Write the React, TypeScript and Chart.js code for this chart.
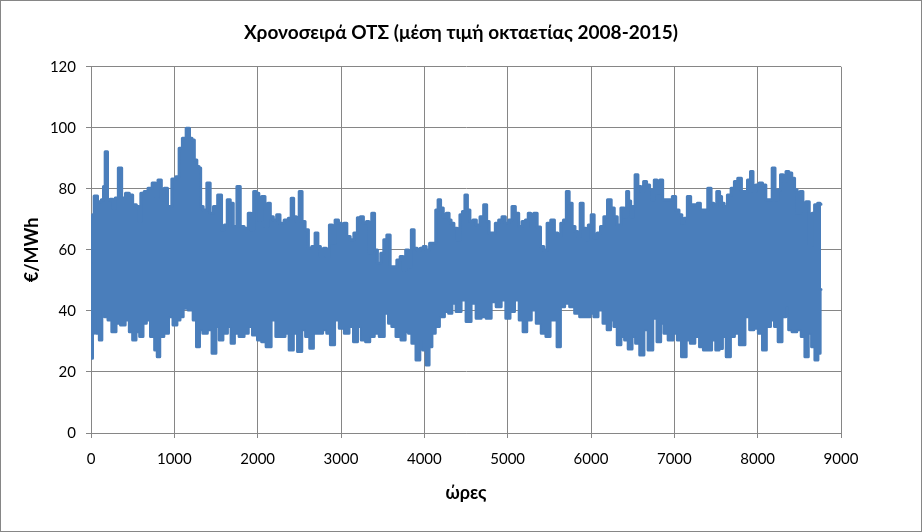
import React, { useEffect, useRef } from 'react';
import { Chart, registerables } from 'chart.js';

Chart.register(...registerables);

// Upper envelope of the hourly series (daily peaks)
const upperHours = [
  0, 12, 24, 52, 104, 144, 156, 184, 212, 244, 276, 304, 352, 384, 444, 476, 524, 564, 584, 612,
  664, 704, 764, 784, 824, 864, 892, 944, 996, 1040, 1075, 1118, 1166, 1198, 1226, 1254, 1286, 1306, 1326, 1366,
  1414, 1446, 1494, 1546, 1587, 1615, 1655, 1687, 1727, 1775, 1807, 1867, 1907, 1936, 1968, 2000, 2028, 2068, 2108, 2136,
  2168, 2208, 2248, 2288, 2348, 2388, 2416, 2448, 2480, 2517, 2549, 2589, 2629, 2669, 2709, 2737, 2769, 2809, 2841, 2881,
  2909, 2949, 2990, 3018, 3050, 3090, 3130, 3178, 3215, 3249, 3289, 3321, 3349, 3389, 3417, 3457, 3497, 3530, 3570, 3610,
  3650, 3690, 3730, 3762, 3790, 3830, 3858, 3898, 3930, 3970, 4002, 4043, 4083, 4123, 4151, 4179, 4211, 4243, 4283, 4311,
  4331, 4379, 4411, 4443, 4471, 4503, 4531, 4563, 4604, 4644, 4692, 4732, 4764, 4792, 4832, 4872, 4912, 4952, 4992, 5032,
  5072, 5112, 5153, 5193, 5233, 5261, 5293, 5333, 5375, 5413, 5453, 5493, 5541, 5581, 5621, 5653, 5686, 5722, 5754, 5794,
  5822, 5854, 5886, 5926, 5954, 5982, 6022, 6054, 6094, 6134, 6174, 6222, 6263, 6295, 6335, 6383, 6415, 6439, 6465, 6487,
  6515, 6543, 6583, 6615, 6647, 6687, 6719, 6743, 6776, 6808, 6844, 6876, 6916, 6956, 6996, 7036, 7076, 7104, 7136, 7176,
  7216, 7256, 7296, 7329, 7377, 7425, 7457, 7489, 7529, 7557, 7577, 7617, 7657, 7705, 7737, 7785, 7825, 7858, 7898, 7930,
  7958, 7998, 8038, 8078, 8118, 8158, 8190, 8226, 8258, 8290, 8322, 8358, 8391, 8427, 8459, 8487, 8527, 8559, 8599, 8639,
  8667, 8699, 8739, 8760,
];
const upperValues = [
  56, 71, 71.5, 77.7, 75.8, 76.4, 80.8, 92.2, 76.4, 76.6, 73.7, 77, 86.8, 77, 78.6, 78, 74.8, 74.2, 69.3, 78.6,
  79.1, 80.2, 81.9, 77.5, 82.9, 76.4, 80.2, 74.2, 83.2, 84, 93.3, 96.6, 99.9, 96.6, 96, 89.5, 87.3, 86.8, 74.2, 73.1,
  81.9, 72, 74.2, 78, 66.6, 68.2, 76.4, 75.3, 67.7, 80.8, 67.7, 67.1, 72, 66.6, 79.1, 78.6, 69.8, 77.5, 67.7, 75.3,
  70.9, 69.8, 71.5, 68.7, 69.8, 70.4, 76.9, 70.9, 69.3, 79.1, 69.3, 66.6, 60.5, 61.1, 65.5, 61.1, 57.8, 60.5, 57.8, 68.2,
  62.2, 69.8, 68.7, 67.7, 68.7, 64.4, 63.3, 65.5, 70.5, 70.9, 68.7, 69.3, 58.9, 72, 60, 55.6, 58.9, 63.3, 64.9, 54.5,
  54.5, 56.7, 57.8, 53.4, 60, 54.5, 66.6, 60.5, 60, 60.5, 61.1, 60, 62.2, 62.2, 73.1, 76.4, 73.7, 70.9, 72, 69.8,
  68.7, 67.1, 63.3, 71.5, 72.6, 78, 73.1, 69.3, 69.8, 68.2, 70.9, 74.8, 69.3, 65.5, 65.5, 68.7, 69.8, 70.9, 68.7, 69.8,
  74.2, 72, 67.7, 69.3, 69.8, 72, 67.7, 72, 67.5, 61.1, 60, 68.7, 69.8, 65.5, 64.4, 68.7, 69.8, 79.1, 75.3, 67.7,
  66, 64.4, 75.3, 67.1, 63.3, 68.2, 71.5, 63.8, 65.5, 67.7, 70.9, 76.4, 73.7, 70.9, 68.2, 73.7, 70.9, 79.1, 76, 70.9,
  74.2, 84.6, 80.8, 79.1, 82.4, 81.3, 79.7, 76.4, 82.9, 78.6, 82.9, 76.4, 76.4, 76.4, 77.5, 73.1, 71.5, 68.7, 70.4, 77.5,
  74.8, 74.8, 75.3, 73.1, 73.1, 80.2, 75.3, 74.2, 79.1, 77.5, 75.3, 74.2, 78, 80.2, 82.4, 83.5, 79.1, 79.1, 82.9, 85.7,
  79.1, 81.3, 81.9, 81.3, 76.4, 76.4, 86.8, 76.4, 79.7, 84.6, 82.4, 85.7, 85.2, 83.5, 79.7, 72, 79.1, 72.6, 75.8, 61.6,
  72, 74.8, 75.3, 75,
];

// Lower envelope of the hourly series (night troughs)
const lowerHours = [
  0, 12, 24, 44, 84, 116, 144, 184, 224, 276, 324, 384, 436, 484, 516, 564, 604, 644, 684, 744,
  784, 806, 844, 904, 956, 1012, 1050, 1086, 1126, 1206, 1246, 1286, 1318, 1366, 1426, 1479, 1519, 1559, 1607, 1667,
  1695, 1747, 1807, 1867, 1907, 1968, 2028, 2068, 2135, 2188, 2248, 2308, 2348, 2408, 2448, 2509, 2549, 2601, 2649, 2689,
  2749, 2809, 2849, 2897, 2949, 3010, 3070, 3122, 3178, 3218, 3269, 3321, 3369, 3429, 3489, 3550, 3590, 3630, 3690, 3750,
  3790, 3830, 3870, 3930, 3962, 4002, 4043, 4071, 4111, 4151, 4211, 4271, 4311, 4351, 4411, 4471, 4531, 4591, 4652, 4712,
  4772, 4832, 4892, 4952, 5004, 5052, 5112, 5165, 5205, 5253, 5313, 5373, 5433, 5485, 5533, 5573, 5613, 5653, 5714, 5774,
  5834, 5894, 5966, 6014, 6054, 6114, 6174, 6214, 6255, 6295, 6335, 6383, 6423, 6470, 6515, 6555, 6615, 6655, 6715, 6768,
  6816, 6856, 6896, 6956, 7016, 7056, 7116, 7168, 7216, 7276, 7329, 7369, 7417, 7477, 7517, 7557, 7597, 7649, 7697, 7745,
  7817, 7878, 7930, 7978, 8038, 8078, 8130, 8178, 8226, 8266, 8318, 8358, 8386, 8439, 8499, 8547, 8587, 8627, 8667, 8707,
  8739, 8760,
];
const lowerValues = [
  30, 24.5, 32.7, 39.8, 32.7, 30.5, 40.3, 38.1, 37, 33.2, 36, 35.4, 37, 33.2, 30.5, 33.2, 31.6, 36, 37, 31.6,
  27.2, 25, 31.6, 32.7, 38.1, 35.4, 37, 38.1, 40.9, 40.3, 37, 28.3, 33.8, 32.7, 33.8, 26.1, 34.9, 30.5, 32.7, 34.9,
  29.4, 32.7, 31.6, 32.7, 34.9, 32.1, 30.5, 29.9, 28.3, 37, 31.6, 31.6, 32.7, 27.2, 32.7, 26.7, 33.8, 31.6, 27.8, 32.7,
  32.7, 33.8, 32.7, 28.9, 37, 34.3, 32.7, 34.9, 29.9, 34.9, 30.5, 29.9, 31.6, 32.7, 31.6, 39.2, 36, 34.9, 31.6, 30.5,
  33.2, 32.7, 29.4, 23.9, 30.5, 27.2, 22.3, 28.3, 32.7, 34.9, 38.1, 39.8, 39.2, 42.5, 39.8, 43.6, 36.5, 42.5, 37.6, 38.1,
  37.6, 43, 41.4, 43.6, 37.6, 39.8, 43.6, 37, 33.2, 37, 40.3, 36, 32.7, 31.6, 37, 37, 28.3, 41.4, 42.5, 41.4,
  39.2, 38.1, 38.1, 39.2, 38.1, 40.3, 36, 33.8, 37, 34.9, 28.9, 31.6, 30.5, 27.5, 31.6, 29.4, 25.6, 33.8, 27.2, 37.6,
  29.9, 36, 32.7, 30.5, 32.7, 30.5, 25, 30.5, 29.4, 31.6, 28.3, 27.2, 27.2, 30.5, 27.2, 27.7, 31.6, 25, 31.6, 32.7,
  28.9, 38.1, 33.8, 34.3, 32.7, 27.2, 34.9, 37, 34.9, 29.9, 38.1, 41.4, 33.8, 33.2, 33.8, 31.6, 25, 32.7, 28.3, 23.9,
  26.1, 47,
];

const TITLE = 'Χρονοσειρά ΟΤΣ (μέση τιμή οκταετίας 2008-2015)';
const X_TITLE = 'ώρες';
const Y_TITLE = '€/MWh';
const X_MIN = 0;
const X_MAX = 9000;
const X_STEP = 1000;
const Y_MIN = 0;
const Y_MAX = 120;
const Y_STEP = 20;

const BLUE = '#4a7ebb';
const GRID = '#868686';
const FONT = 'Lato, "Noto Sans", sans-serif';

export default function App() {
  const ref = useRef<HTMLCanvasElement>(null);

  useEffect(() => {
    document.body.style.margin = '0';
    const upper = upperHours.map((h, i) => ({ x: h, y: upperValues[i] }));
    const lower = lowerHours.map((h, i) => ({ x: h, y: lowerValues[i] }));
    const common = {
      borderColor: BLUE,
      backgroundColor: BLUE,
      borderWidth: 3,
      borderJoinStyle: 'round' as const,
      borderCapStyle: 'round' as const,
      pointRadius: 0,
      tension: 0,
      stepped: 'middle' as const,
    };
    const chart = new Chart(ref.current as HTMLCanvasElement, {
      type: 'line',
      data: {
        datasets: [
          { label: 'max', data: upper, fill: '+1', ...common },
          { label: 'min', data: lower, fill: false, ...common },
        ],
      },
      options: {
        responsive: false,
        animation: false,
        layout: { padding: 0 },
        plugins: {
          legend: { display: false },
          tooltip: { enabled: false },
          title: {
            display: true,
            text: TITLE,
            color: '#000',
            font: { family: FONT, size: 19, weight: 'bold' },
            padding: { top: 21, bottom: 23 },
          },
        },
        scales: {
          x: {
            type: 'linear',
            min: X_MIN,
            max: X_MAX,
            ticks: {
              stepSize: X_STEP,
              color: '#000',
              font: { family: FONT, size: 15 },
              padding: 12,
              maxRotation: 0,
              autoSkip: false,
              callback: (v: any) => String(v),
            },
            grid: { color: GRID, lineWidth: 1, tickLength: 5 },
            border: { color: GRID, width: 1 },
            title: {
              display: true,
              text: X_TITLE,
              color: '#000',
              font: { family: FONT, size: 18, weight: 'bold' },
              padding: { top: 0, bottom: 28 },
            },
            afterFit: (s: any) => {
              s.height = 99;
            },
          },
          y: {
            min: Y_MIN,
            max: Y_MAX,
            ticks: {
              stepSize: Y_STEP,
              color: '#000',
              font: { family: FONT, size: 15 },
              padding: 10,
            },
            grid: { color: GRID, lineWidth: 1, tickLength: 5 },
            border: { color: GRID, width: 1 },
            title: {
              display: true,
              text: Y_TITLE,
              color: '#000',
              font: { family: FONT, size: 18, weight: 'bold' },
              padding: { top: 21, bottom: 0 },
            },
            afterFit: (s: any) => {
              s.width = 91;
            },
          },
          yRight: {
            position: 'right',
            min: Y_MIN,
            max: Y_MAX,
            display: true,
            ticks: { display: false },
            grid: { display: false, drawTicks: false },
            border: { display: false },
            afterFit: (s: any) => {
              s.width = 81;
            },
          },
        },
      },
    });
    return () => chart.destroy();
  }, []);

  return (
    <div style={{ position: 'fixed', left: 0, top: 0, width: 922, height: 532, background: '#fff' }}>
      <canvas ref={ref} width={922} height={532} style={{ display: 'block', width: 922, height: 532 }} />
      <div
        style={{
          position: 'absolute',
          left: 0,
          top: 0,
          width: 922,
          height: 532,
          boxSizing: 'border-box',
          border: '1px solid #868686',
          pointerEvents: 'none',
        }}
      />
    </div>
  );
}
